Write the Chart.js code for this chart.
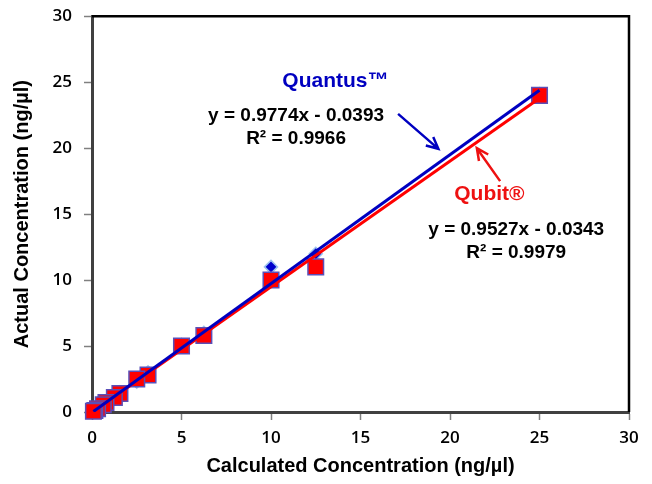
<!DOCTYPE html>
<html>
<head>
<meta charset="utf-8">
<script src="https://cdn.jsdelivr.net/npm/chart.js@4.4.1/dist/chart.umd.min.js"></script>
<style>
    html, body { margin: 0; padding: 0; background: #fff; }
    #wrap { width: 652px; height: 484px; }
</style>
</head>
<body>
<div id="wrap"><canvas id="chart"></canvas></div>
<script>
// data
const calculated    = [25, 12.5, 10, 6.25, 5, 3.13, 2.5, 1.56, 1.25, 0.78, 0.63, 0.31, 0.16, 0.08];
const qubitActual   = [24, 11, 10, 5.8, 5.0, 2.8, 2.5, 1.4, 1.1, 0.72, 0.55, 0.25, 0.12, 0.05];
const quantusActual = [24.1, 12, 11, 6.0, 5.1, 3.0, 2.3, 1.5, 1.2, 0.75, 0.6, 0.3, 0.15, 0.08];
const axisTicks     = [0, 5, 10, 15, 20, 25, 30];

// trendline coefficients as printed on the chart
const quantusSlope = 0.9774, quantusIntercept = -0.0393, quantusR2 = '0.9966';
const qubitSlope   = 0.9527, qubitIntercept   = -0.0343, qubitR2   = '0.9979';
const fitRange     = [0.08, 25];

const points = (xs, ys) => xs.map((v, i) => ({ x: v, y: ys[i] }));
const fitLine = (m, b) => fitRange.map(v => ({ x: v, y: m * v + b }));

//********************************************************************************
///Annotations: frame, labels, arrows
//********************************************************************************
function drawArrow(ctx, x1, y1, x2, y2, color) {
    const ang = Math.atan2(y2 - y1, x2 - x1);
    const head = 13;
    ctx.strokeStyle = color;
    ctx.lineWidth = 2.5;
    ctx.beginPath();
    ctx.moveTo(x1, y1);
    ctx.lineTo(x2, y2);
    ctx.moveTo(x2 - head * Math.cos(ang - 0.45), y2 - head * Math.sin(ang - 0.45));
    ctx.lineTo(x2, y2);
    ctx.lineTo(x2 - head * Math.cos(ang + 0.45), y2 - head * Math.sin(ang + 0.45));
    ctx.stroke();
}

const annotationPlugin = {
    id: 'annotations',
    afterDraw(chart) {
        const { ctx, chartArea, scales: { x, y } } = chart;
        ctx.save();

        // top and right edges of the plot frame
        ctx.strokeStyle = '#000';
        ctx.lineWidth = 2.5;
        ctx.beginPath();
        ctx.moveTo(chartArea.left, chartArea.top);
        ctx.lineTo(chartArea.right, chartArea.top);
        ctx.lineTo(chartArea.right, chartArea.bottom);
        ctx.stroke();

        const px = v => x.getPixelForValue(v);
        const py = v => y.getPixelForValue(v);

        ctx.textAlign = 'center';
        ctx.textBaseline = 'middle';

        ctx.font = 'bold 21px "Liberation Sans", Arial, sans-serif';
        ctx.fillStyle = '#0000C0';
        ctx.fillText('Quantus™', px(13.6), py(25.1));
        ctx.fillStyle = '#EE1111';
        ctx.fillText('Qubit®', px(22.2), py(16.5));

        ctx.font = 'bold 19px "Liberation Sans", Arial, sans-serif';
        ctx.fillStyle = '#000';
        ctx.fillText('y = ' + quantusSlope + 'x - ' + Math.abs(quantusIntercept), px(11.4), py(22.45));
        ctx.fillText('R² = ' + quantusR2, px(11.4), py(20.7));
        ctx.fillText('y = ' + qubitSlope + 'x - ' + Math.abs(qubitIntercept), px(23.7), py(13.85));
        ctx.fillText('R² = ' + qubitR2, px(23.7), py(12.1));

        drawArrow(ctx, px(17.1), py(22.6), px(19.35), py(19.95), '#0000C0');
        drawArrow(ctx, px(22.8), py(17.5), px(21.5), py(20.0), '#EE1111');

        ctx.restore();
    }
};

//********************************************************************************
///Chart
//********************************************************************************
const xTickFont = { family: '"Open Sans", sans-serif', size: 17, weight: '600', lineHeight: 1 };
const yTickFont = { family: '"Open Sans", sans-serif', size: 17, weight: '600', lineHeight: 0.5 };
const titleFont = { family: '"Liberation Sans", Arial, sans-serif', size: 20, weight: 'bold' };

new Chart(document.getElementById('chart'), {
    type: 'scatter',
    data: {
        datasets: [
            {
                label: 'Quantus fit',
                type: 'line',
                data: fitLine(quantusSlope, quantusIntercept),
                borderColor: '#0000C0',
                borderWidth: 3,
                pointRadius: 0,
                order: 0
            },
            {
                label: 'Qubit fit',
                type: 'line',
                data: fitLine(qubitSlope, qubitIntercept),
                borderColor: '#FF0000',
                borderWidth: 3,
                pointRadius: 0,
                order: 0
            },
            {
                label: 'Qubit',
                data: points(calculated, qubitActual),
                pointStyle: 'rect',
                pointRadius: 11,
                backgroundColor: '#FF0000',
                borderColor: '#5A4FB8',
                borderWidth: 1.5,
                clip: false,
                order: 1
            },
            {
                label: 'Quantus',
                data: points(calculated, quantusActual),
                pointStyle: 'rectRot',
                pointRadius: 6.5,
                backgroundColor: '#0000CC',
                borderColor: '#9DC3F0',
                borderWidth: 1.5,
                clip: false,
                order: 2
            }
        ]
    },
    options: {
        responsive: true,
        maintainAspectRatio: false,
        animation: false,
        layout: { padding: { top: 15, right: 23, left: 0, bottom: 0 } },
        plugins: {
            legend: { display: false },
            tooltip: { enabled: false }
        },
        scales: {
            x: {
                type: 'linear',
                min: 0,
                max: 30,
                afterBuildTicks: s => { s.ticks = axisTicks.map(v => ({ value: v })); },
                afterFit: s => { s.height = 72; },
                ticks: { color: '#000', font: xTickFont, padding: 10, maxRotation: 0 },
                grid: { drawOnChartArea: false, tickLength: 8, color: '#808080', tickWidth: 1.5 },
                border: { color: '#404040', width: 3 },
                title: { display: true, text: 'Calculated Concentration (ng/µl)', color: '#000', font: titleFont, padding: { top: 2, bottom: 6 } }
            },
            y: {
                type: 'linear',
                min: 0,
                max: 30,
                afterBuildTicks: s => { s.ticks = axisTicks.map(v => ({ value: v })); },
                afterFit: s => { s.width = 92; },
                ticks: { color: '#000', font: yTickFont, padding: 12 },
                grid: { drawOnChartArea: false, tickLength: 8, color: '#808080', tickWidth: 1.5 },
                border: { color: '#404040', width: 3 },
                title: { display: true, text: 'Actual Concentration (ng/µl)', color: '#000', font: titleFont, padding: { top: 10, bottom: 0 } }
            }
        }
    },
    plugins: [annotationPlugin]
});
</script>
</body>
</html>
